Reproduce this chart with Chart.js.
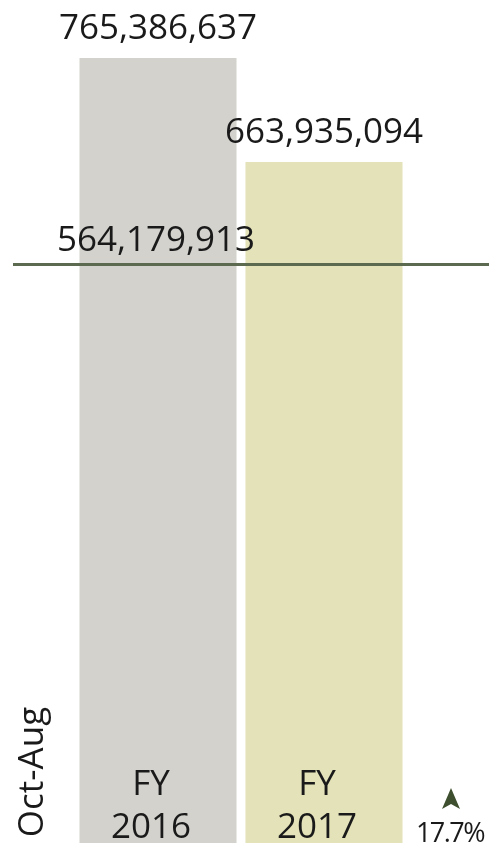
<!DOCTYPE html>
<html>
<head>
<meta charset="utf-8">
<script src="https://cdn.jsdelivr.net/npm/chart.js@4"></script>
<style>
  html, body { margin: 0; padding: 0; background: #ffffff; }
  #wrap { width: 489px; height: 844px; position: relative; }
</style>
</head>
<body>
<div id="wrap"><canvas id="chart"></canvas></div>
<script>
// data
const categories = ["FY 2016", "FY 2017"];
const values = [765386637, 663935094];
const baselineValue = 564179913;
const periodLabel = "Oct-Aug";

const barColors = ["#d3d2cd", "#e3e2b8"];
const fontFamily = "'Open Sans', sans-serif";

function fmt(n) {
  return n.toLocaleString("en-US");
}

// reference line, labels and change marker
const overlayPlugin = {
  id: "overlay",
  afterDatasetsDraw: function (chart) {
    const ctx = chart.ctx;
    const yScale = chart.scales.y;
    const meta = chart.getDatasetMeta(0);
    const lineY = yScale.getPixelForValue(baselineValue);

    ctx.save();
    // horizontal reference line
    ctx.strokeStyle = "#5c6b4f";
    ctx.lineWidth = 3;
    ctx.beginPath();
    ctx.moveTo(13, lineY);
    ctx.lineTo(chart.width, lineY);
    ctx.stroke();

    ctx.fillStyle = "#1a1a1a";
    ctx.font = "35px " + fontFamily;
    ctx.textAlign = "center";
    ctx.textBaseline = "alphabetic";

    // value labels above bars
    meta.data.forEach(function (bar, i) {
      ctx.fillText(fmt(values[i]), bar.x, bar.y - 19);
    });
    // reference value label
    ctx.fillText(fmt(baselineValue), meta.data[0].x - 2, lineY - 13);

    // category labels inside bars
    meta.data.forEach(function (bar, i) {
      const parts = categories[i].split(" ");
      ctx.fillText(parts[0], bar.x - 7, yScale.getPixelForValue(0) - 48);
      ctx.fillText(parts[1], bar.x - 7, yScale.getPixelForValue(0) - 5);
    });

    // vertical period label
    ctx.save();
    ctx.translate(43, 772);
    ctx.rotate(-Math.PI / 2);
    ctx.fillText(periodLabel, 0, 0);
    ctx.restore();

    // change vs reference
    const pct = ((values[1] - baselineValue) / baselineValue * 100).toFixed(1) + "%";
    const cx = 451;
    ctx.fillStyle = "#3d4f2e";
    ctx.beginPath();
    ctx.moveTo(cx, 788);
    ctx.lineTo(cx + 9, 809);
    ctx.lineTo(cx, 804);
    ctx.lineTo(cx - 9, 809);
    ctx.closePath();
    ctx.fill();

    ctx.fillStyle = "#1a1a1a";
    ctx.font = "27px " + fontFamily;
    if ("letterSpacing" in ctx) ctx.letterSpacing = "-1.5px";
    ctx.fillText(pct, cx - 1, 842);
    ctx.restore();
  }
};

new Chart(document.getElementById("chart"), {
  type: "bar",
  data: {
    labels: categories,
    datasets: [{
      data: values,
      backgroundColor: barColors,
      borderWidth: 0,
      barPercentage: 0.946,
      categoryPercentage: 1
    }]
  },
  options: {
    responsive: true,
    maintainAspectRatio: false,
    animation: false,
    layout: { padding: { left: 75, right: 82, top: 0, bottom: 1 } },
    plugins: {
      legend: { display: false },
      tooltip: { enabled: false }
    },
    scales: {
      x: { display: false },
      y: { display: false, min: 0, max: 822000000 }
    }
  },
  plugins: [overlayPlugin]
});
</script>
</body>
</html>
